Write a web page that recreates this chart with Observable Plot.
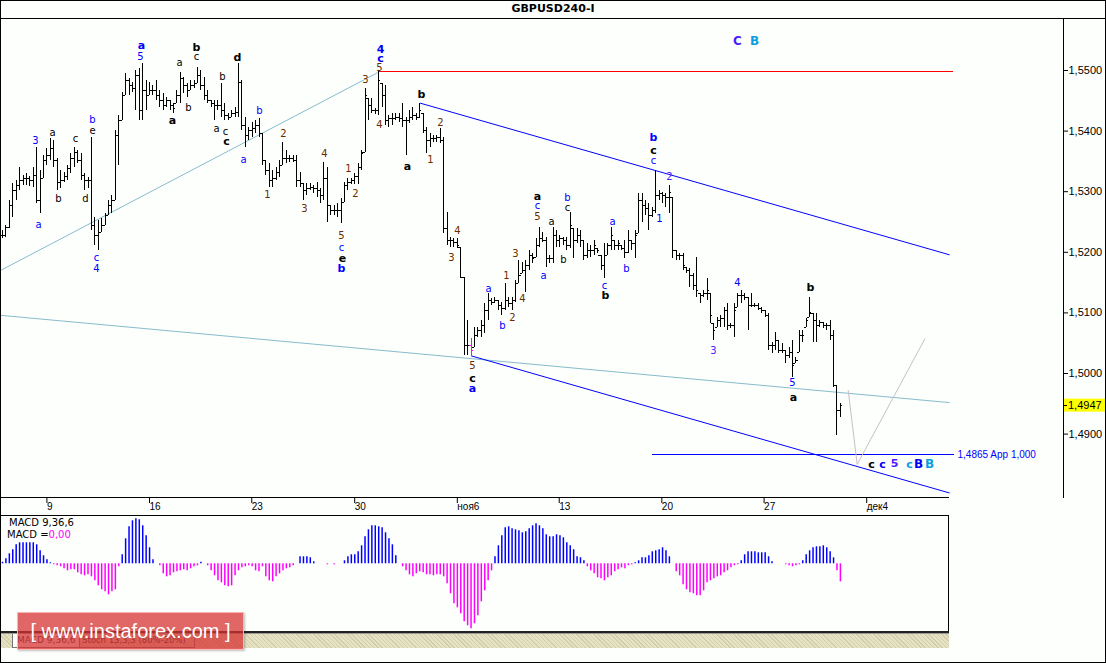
<!DOCTYPE html>
<html><head><meta charset="utf-8">
<script src="https://cdn.jsdelivr.net/npm/d3@7"></script>
<script src="https://cdn.jsdelivr.net/npm/@observablehq/plot@0.6"></script>
<style>
html,body{margin:0;padding:0;background:#fff;}
#wrap{position:relative;width:1106px;height:663px;overflow:hidden;background:#fdfffd;font-family:"DejaVu Sans",sans-serif;}
.a{position:absolute;}
.ln{position:absolute;background:#000;}
</style></head><body><div id="wrap"></div>
<script>
// ---- price bars (4 decimals after "1.", e.g. 5236 = 1.5236) ----
const HIGH = [
5236,5244,5285,5314,5318,5340,5327,5330,5325,5340,
5373,5335,5360,5371,5388,5385,5355,5335,5332,5343,
5363,5373,5368,5363,5330,5323,5389,5257,5252,5256,
5264,5285,5294,5401,5426,5464,5495,5487,5480,5500,
5503,5512,5484,5480,5475,5484,5467,5462,5455,5451,
5446,5467,5497,5488,5479,5484,5484,5505,5500,5488,
5467,5451,5451,5451,5479,5446,5429,5434,5439,5512,
5484,5422,5406,5414,5418,5421,5396,5352,5347,5335,
5340,5352,5381,5368,5360,5360,5360,5332,5314,5314,
5314,5310,5315,5305,5348,5340,5277,5277,5281,5289,
5315,5322,5322,5330,5347,5368,5470,5454,5454,5437,
5500,5479,5475,5426,5429,5429,5429,5446,5422,5434,
5439,5429,5446,5429,5406,5396,5393,5393,5404,5389,
5266,5224,5223,5223,5208,5158,5088,5058,5076,5076,
5088,5116,5132,5124,5125,5120,5117,5148,5125,5125,
5153,5186,5183,5186,5203,5198,5223,5241,5233,5224,
5195,5241,5236,5228,5224,5224,5266,5239,5239,5236,
5219,5214,5211,5219,5206,5195,5214,5214,5241,5219,
5219,5211,5219,5236,5219,5236,5297,5297,5285,5281,
5274,5335,5302,5299,5297,5310,5290,5203,5198,5198,
5175,5173,5165,5191,5132,5137,5157,5132,5083,5092,
5096,5109,5116,5083,5116,5132,5137,5132,5125,5132,
5116,5116,5109,5104,5099,5051,5068,5055,5050,5038,
5043,5055,5026,5071,5071,5091,5125,5099,5099,5088,
5084,5083,5088,5071,4980,4951];
const LOW = [
5223,5224,5239,5257,5285,5302,5310,5310,5309,5307,
5281,5264,5322,5343,5352,5340,5302,5305,5315,5318,
5330,5340,5347,5318,5302,5305,5236,5211,5203,5233,
5244,5261,5264,5285,5343,5418,5459,5459,5464,5434,
5418,5418,5434,5459,5459,5451,5439,5434,5439,5434,
5429,5446,5446,5462,5455,5467,5470,5479,5467,5451,
5446,5439,5418,5434,5422,5418,5418,5422,5422,5422,
5401,5373,5385,5389,5396,5389,5343,5327,5307,5307,
5318,5323,5343,5347,5348,5348,5307,5307,5285,5294,
5302,5297,5290,5281,5285,5249,5261,5261,5257,5248,
5282,5302,5312,5312,5312,5335,5365,5418,5429,5427,
5426,5439,5409,5406,5409,5418,5414,5406,5360,5413,
5418,5418,5421,5396,5363,5373,5381,5381,5380,5231,
5211,5208,5208,5206,5157,5030,5030,5028,5043,5059,
5059,5066,5088,5112,5116,5104,5096,5104,5109,5104,
5117,5148,5165,5134,5170,5182,5191,5208,5216,5175,
5182,5182,5208,5208,5211,5203,5206,5190,5214,5208,
5186,5190,5191,5195,5198,5170,5157,5195,5203,5203,
5203,5203,5190,5198,5203,5190,5231,5249,5261,5236,
5257,5264,5285,5281,5274,5264,5190,5186,5186,5170,
5165,5142,5137,5125,5116,5125,5120,5083,5055,5076,
5076,5076,5071,5074,5059,5109,5116,5120,5071,5109,
5109,5104,5099,5092,5038,5033,5038,5033,5033,5016,
5025,4993,5016,5035,5051,5076,5092,5051,5051,5076,
5074,5071,5055,4977,4898,4927];
const CLOSE = [
5228,5241,5277,5302,5310,5318,5322,5322,5318,5327,
5285,5322,5352,5360,5371,5352,5315,5318,5325,5338,
5355,5365,5352,5327,5318,5318,5244,5228,5233,5244,
5261,5277,5285,5393,5418,5459,5484,5475,5470,5492,
5434,5467,5459,5467,5467,5459,5451,5442,5451,5442,
5437,5459,5487,5475,5467,5475,5479,5492,5475,5459,
5451,5446,5442,5442,5434,5426,5422,5429,5431,5480,
5409,5393,5401,5404,5409,5396,5352,5335,5318,5322,
5332,5343,5355,5355,5355,5352,5318,5314,5302,5305,
5307,5305,5302,5294,5322,5277,5269,5269,5269,5282,
5310,5315,5318,5325,5340,5363,5459,5442,5434,5434,
5484,5459,5418,5421,5421,5422,5421,5418,5418,5422,
5426,5422,5434,5401,5385,5388,5388,5389,5385,5239,
5219,5219,5216,5211,5158,5046,5046,5038,5063,5071,
5079,5104,5120,5117,5120,5112,5107,5120,5116,5120,
5148,5162,5170,5178,5195,5190,5211,5223,5219,5190,
5190,5228,5219,5223,5219,5211,5244,5219,5228,5219,
5195,5203,5203,5211,5203,5178,5195,5211,5228,5211,
5214,5206,5200,5219,5214,5228,5285,5277,5272,5261,
5269,5294,5297,5294,5290,5299,5203,5195,5195,5178,
5170,5162,5145,5137,5129,5132,5137,5096,5071,5088,
5091,5104,5079,5079,5104,5129,5129,5125,5112,5112,
5112,5107,5104,5096,5046,5046,5055,5038,5038,5030,
5035,5013,5021,5063,5063,5088,5101,5088,5079,5084,
5079,5079,5063,4980,4939,4947];
// ---- MACD 9,36,6 histogram (same bars) ----
const MACD = [
1.5,5,10,14,19,21,21,21,21,21,
19,13,8,4,1,-1,-2,-3,-5,-7,
-6,-6,-9,-11,-12,-11,-13,-17,-22,-26,
-28,-31,-28,-26,-3,9,25,37,43,45,
44,38,28,16,4,0,-2,-10,-13,-12,
-9,-8,-7,-6,-7,-5,-3,-2,1.5,0,
-2,-7,-12,-17,-19,-22,-23,-22,-12,-7,
-4,-3,-2,-3,-7,-8,-3,-13,-17,-18,
-13,-10,-7,-5,-4,-2,0,7,7,7,
6,2,0,0,0,-1,0,-1,0,0,
3,7,9,9,12,18,27,34,38,38,
37,36,31,25,19,8,0,-3,-7,-11,
-13,-10,-8,-9,-11,-11,-12,-11,-11,-13,
-20,-30,-40,-44,-50,-58,-62,-65,-60,-52,
-38,-27,-17,-7,7,18,28,36,37,35,
34,33,31,32,35,38,40,38,35,29,
27,27,29,28,26,21,18,14,7,6,
3,-3,-7,-10,-14,-15,-17,-14,-12,-8,
-6,-4,-5,-2,-1,1,3,6,6,8,
12,13,14,16,13,7,0,-8,-12,-21,
-26,-29,-30,-32,-32,-27,-19,-17,-15,-13,
-12,-9,-7,-4,-2,-1,3,9,12,12,
12,11,11,11,7,2,0,0,0,-1,
-2,-3,-2,-1,3,9,13,16,17,17,
18,16,12,6,-7,-18];
const HIGHLIGHT_BAR = 137;

// ---- axes ----
const TICK_IDX = [12.4, 42.4, 72.3, 102.4, 132.4, 162.2, 192.2, 222.1, 252.1];
const TICK_LABELS = ["9","16","23","30","ноя6","13","20","27","дек4"];
const PRICE_TICKS = [1.49, 1.50, 1.51, 1.52, 1.53, 1.54, 1.55];
const LAST_PRICE = 1.4947;
const TITLE = "GBPUSD240-I";

// ---- drawn lines [bar index, price] ----
const UPPER_CHANNEL = [[122.22, 1.5446], [276.81, 1.5196]];
const LOWER_CHANNEL = [[137.13, 1.5029], [276.81, 1.4803]];
const SUPPORT_LINE = [[-0.585, 1.5096], [276.81, 1.4952]];
const RISING_LINE = [[-0.585, 1.5170], [110.23, 1.5498]];
const HIGH_LEVEL = [[110.23, 1.5499], [277.98, 1.5499]];
const TARGET_LEVEL = [[190.06, 1.4866], [277.98, 1.4866]];
const FORECAST = [[247.28, 1.4972], [249.91, 1.4850], [269.68, 1.5057]];
const TARGET_TEXT = [[279.24, 1.4866, "1,4865 App 1,000"]];

// ---- wave labels [bar index, price, text, colour, style] ----
const WAVE_LABELS = [
[9.65,1.5384,"3","bl",0],[10.53,1.5246,"a","bl",0],[14.62,1.5398,"a","k",0],[16.37,1.5289,"b","k",0],
[21.35,1.5388,"c","k",0],[24.27,1.5289,"d","k",0],[26.32,1.5419,"b","bl",0],[26.32,1.5401,"e","k",0],
[27.49,1.5191,"c","bl",0],[27.49,1.5172,"4","bl",0],[40.64,1.5541,"a","bl",1],[40.35,1.5523,"5","bl",0],
[51.75,1.5512,"a","k",0],[56.73,1.5538,"b","k",1],[56.73,1.5523,"c","k",0],[49.71,1.5418,"a","k",1],
[54.39,1.5439,"b","k",0],[68.71,1.5521,"d","k",1],[64.33,1.5490,"b","k",0],[62.57,1.5404,"a","k",0],
[65.2,1.5399,"c","k",0],[65.5,1.5383,"c","k",1],[70.47,1.5353,"a","bl",0],[75.15,1.5434,"b","bl",0],
[77.49,1.5295,"1","br",0],[82.16,1.5396,"2","br",0],[88.3,1.5271,"3","br",0],[94.15,1.5363,"4","br",0],
[99.12,1.5228,"5","br",0],[99.12,1.5208,"c","bl",0],[99.42,1.5190,"e","k",1],[99.12,1.5173,"b","bl",1],
[101.17,1.5338,"1","br",0],[103.22,1.5297,"2","br",0],[106.14,1.5484,"3","br",0],[110.53,1.5535,"4","bl",1],
[110.53,1.5520,"c","bl",1],[110.23,1.5505,"5","br",0],[110.23,1.5411,"4","br",0],[122.51,1.5460,"b","k",1],
[118.42,1.5342,"a","k",1],[125.15,1.5353,"1","br",0],[128.07,1.5413,"2","br",0],[133.04,1.5236,"4","br",0],
[131.29,1.5191,"3","br",0],[137.43,1.5013,"5","br",0],[137.43,1.4992,"c","k",1],[137.43,1.4975,"a","bl",1],
[142.11,1.5139,"a","bl",0],[146.2,1.5078,"b","bl",0],[147.37,1.5162,"1","br",0],[149.12,1.5092,"2","br",0],
[150,1.5198,"3","br",0],[152.05,1.5124,"4","br",0],[156.43,1.5292,"a","k",1],[156.43,1.5276,"c","bl",0],
[156.43,1.5259,"5","br",0],[158.19,1.5162,"a","bl",0],[160.53,1.5251,"a","k",0],[165.2,1.5290,"b","bl",0],
[165.2,1.5274,"c","k",0],[164.04,1.5187,"b","k",0],[176.02,1.5145,"c","bl",0],[176.32,1.5129,"b","k",1],
[178.36,1.5251,"a","bl",0],[182.46,1.5173,"b","bl",0],[190.35,1.5389,"b","bl",1],[190.35,1.5368,"c","k",1],
[190.35,1.5351,"c","bl",0],[195.03,1.5325,"2","v",0],[192.11,1.5256,"1","bl",0],[214.91,1.5150,"4","bl",0],
[207.89,1.5038,"3","v",0],[236.26,1.5142,"b","k",1],[231,1.4984,"5","bl",0],[231.29,1.4960,"a","k",1],
[254.09,1.4850,"c","k",1],[257.31,1.4850,"c","bl",1],[260.82,1.4852,"5","v",1],[265.2,1.4850,"c","lb",1],
[267.84,1.4850,"B","bl",2],[271.05,1.4850,"B","lb",2],[214.91,1.5548,"C","v",2],[219.88,1.5548,"B","lb",2]
];
const COLORS = {bl:"#0000ff", k:"#000000", br:"#6a2c00", v:"#4a1cff", lb:"#0a9ee0"};

// ---------------- build ----------------
const wrap = document.getElementById("wrap");
function add(html){ wrap.insertAdjacentHTML("beforeend", html); }
const P = v => 1 + v / 10000;
const bars = CLOSE.map((c, i) => {
  const high = P(HIGH[i]), low = P(LOW[i]), close = P(c);
  const prev = i > 0 ? P(CLOSE[i - 1]) : close;
  const open = Math.min(high, Math.max(low, prev));
  return {i, high, low, open, close, col: i === HIGHLIGHT_BAR ? "#ff00ff" : "#000000"};
});
const labels = WAVE_LABELS.map(([i, p, t, c, b]) => ({i, p, t, c: COLORS[c], b}));
const XY = {x: d => d[0], y: d => d[1]};

add(`<div class="a" style="left:0;top:2px;width:1106px;text-align:center;font:bold 11px 'DejaVu Sans';line-height:14px">${TITLE}</div>`);

const main = Plot.plot({
  width: 1106, height: 497,
  marginLeft: 0, marginRight: 43, marginTop: 0, marginBottom: 17,
  x: {domain: [-0.585, 310.23], label: null},
  y: {domain: [1.479373, 1.558581], label: null},
  color: {type: "identity"},
  style: {background: "transparent", fontFamily: "Liberation Sans", fontSize: "11px", color: "#000", overflow: "visible"},
  marks: [
    Plot.line(RISING_LINE, {...XY, stroke: "#86bccb", strokeWidth: 1}),
    Plot.line(SUPPORT_LINE, {...XY, stroke: "#86bccb", strokeWidth: 1}),
    Plot.line(UPPER_CHANNEL, {...XY, stroke: "#0000ff", strokeWidth: 1}),
    Plot.line(LOWER_CHANNEL, {...XY, stroke: "#0000ff", strokeWidth: 1}),
    Plot.line(HIGH_LEVEL, {...XY, stroke: "#ff0000", strokeWidth: 1, shapeRendering: "crispEdges"}),
    Plot.line(TARGET_LEVEL, {...XY, stroke: "#0000ff", strokeWidth: 1, shapeRendering: "crispEdges"}),
    Plot.line(FORECAST, {...XY, stroke: "#c8bfc8", strokeWidth: 1}),
    Plot.ruleX(bars, {x: "i", y1: "low", y2: "high", stroke: "col", strokeWidth: 1, shapeRendering: "crispEdges"}),
    Plot.ruleY(bars, {y: "open", x1: d => d.i - 0.62, x2: "i", stroke: "col", strokeWidth: 1, shapeRendering: "crispEdges"}),
    Plot.ruleY(bars, {y: "close", x1: "i", x2: d => d.i + 0.62, stroke: "col", strokeWidth: 1, shapeRendering: "crispEdges"}),
    Plot.text(labels.filter(d => d.b === 0), {x: "i", y: "p", text: "t", fill: "c", fontSize: 10, fontFamily: "DejaVu Sans"}),
    Plot.text(labels.filter(d => d.b === 1), {x: "i", y: "p", text: "t", fill: "c", fontSize: 11, fontWeight: "bold", fontFamily: "DejaVu Sans"}),
    Plot.text(labels.filter(d => d.b === 2), {x: "i", y: "p", text: "t", fill: "c", fontSize: 12, fontWeight: "bold", fontFamily: "DejaVu Sans"}),
    Plot.text(TARGET_TEXT, {x: d => d[0], y: d => d[1], text: d => d[2], textAnchor: "start", fill: "#0000ff", fontSize: 10, fontFamily: "Liberation Sans"}),
    Plot.axisY({anchor: "right", ticks: PRICE_TICKS, tickFormat: d => d.toFixed(4).replace(".", ","), tickSize: 4, tickPadding: 1, fontSize: 11, label: null}),
    Plot.axisX({anchor: "bottom", ticks: TICK_IDX, tickFormat: d => TICK_LABELS[TICK_IDX.indexOf(d)], tickSize: 5, tickPadding: -1, textAnchor: "start", dx: 2, fontSize: 10, label: null})
  ]
});
const mainBox = document.createElement("div");
mainBox.className = "a"; mainBox.style.left = "0px"; mainBox.style.top = "18px";
mainBox.appendChild(main); wrap.appendChild(mainBox);

// last price tag on the price axis
const yLast = main.scale("y").apply(LAST_PRICE);
const sv = d3.select(main);
sv.append("rect").attr("x", 1063).attr("y", yLast - 6.5).attr("width", 43).attr("height", 13).attr("fill", "#ffff00");
sv.append("line").attr("x1", 1063).attr("x2", 1067).attr("y1", Math.round(yLast) + 0.5).attr("y2", Math.round(yLast) + 0.5).attr("stroke", "#000");
sv.append("text").attr("x", 1068).attr("y", yLast).attr("dy", "0.36em").attr("text-anchor", "start")
  .attr("font-size", 11).attr("font-family", "Liberation Sans").attr("fill", "#000")
  .text(LAST_PRICE.toFixed(4).replace(".", ","));

// structural lines
add(`<div class="ln" style="left:0;top:18px;width:1106px;height:1px"></div>`);
add(`<div class="ln" style="left:1063px;top:18px;width:1px;height:480px"></div>`);
add(`<div class="ln" style="left:0;top:497px;width:949px;height:1px"></div>`);
add(`<div class="ln" style="left:0;top:515px;width:949px;height:1px"></div>`);
add(`<div class="ln" style="left:948px;top:515px;width:1px;height:117px"></div>`);

// MACD panel
const macdRows = MACD.map((v, i) => ({i, v, col: v >= 0 ? "#0000ff" : "#ff00ff"}));
const macd = Plot.plot({
  width: 949, height: 116, margin: 0,
  x: {domain: [-0.585, 276.9], axis: null},
  y: {domain: [-68.7, 47.3], axis: null},
  color: {type: "identity"},
  style: {background: "transparent"},
  marks: [Plot.ruleX(macdRows, {x: "i", y1: 0, y2: "v", stroke: "col", strokeWidth: 1.5})]
});
const macdBox = document.createElement("div");
macdBox.className = "a"; macdBox.style.left = "0px"; macdBox.style.top = "516px";
macdBox.appendChild(macd); wrap.appendChild(macdBox);
add(`<div class="a" style="left:9px;top:517px;font:10px 'DejaVu Sans';line-height:12px;white-space:nowrap">MACD 9,36,6</div>`);
add(`<div class="a" style="left:7px;top:529px;font:10px 'DejaVu Sans';line-height:12px;white-space:nowrap">MACD =<span style="color:#ff00ff">0,00</span></div>`);

// bottom strip with indicator tabs
add(`<div class="a" style="left:0;top:631px;width:949px;height:2px;background:#222"></div>`);
add(`<div class="a" style="left:0;top:633px;width:949px;height:1px;background:#999"></div>`);
add(`<div class="a" style="left:0;top:634px;width:949px;height:14px;background:#e6e2c4 repeating-linear-gradient(45deg, rgba(120,110,60,0.18) 0 1px, transparent 1px 3px)"></div>`);
add(`<div class="a" style="left:12px;top:634px;width:62px;height:13px;background:#fff;border:1px solid #777;border-top:none;font:9px 'DejaVu Sans';color:#333;line-height:13px;padding-left:4px;white-space:nowrap">MACD 9,36,6</div>`);
add(`<div class="a" style="left:79px;top:634px;width:112px;height:13px;border-right:1px solid #777;border-bottom:1px solid #777;font:8.5px 'DejaVu Sans';color:#333;line-height:13px;padding-left:3px;white-space:nowrap">Stoch 13,3,3 (80%-20%)</div>`);

// watermark
add(`<div class="a" style="left:17px;top:612px;width:225px;height:36px;background:rgba(214,48,48,0.74);border:1px solid rgba(255,190,190,0.9);box-shadow:1px 1px 2px rgba(0,0,0,0.25);color:#fff;font:20px 'Liberation Sans';line-height:36px;text-align:center;white-space:pre">[ www.instaforex.com ]</div>`);

// outer border
add(`<div class="a" style="left:0;top:0;width:1106px;height:663px;box-sizing:border-box;border:1px solid #000;pointer-events:none"></div>`);
</script></body></html>
